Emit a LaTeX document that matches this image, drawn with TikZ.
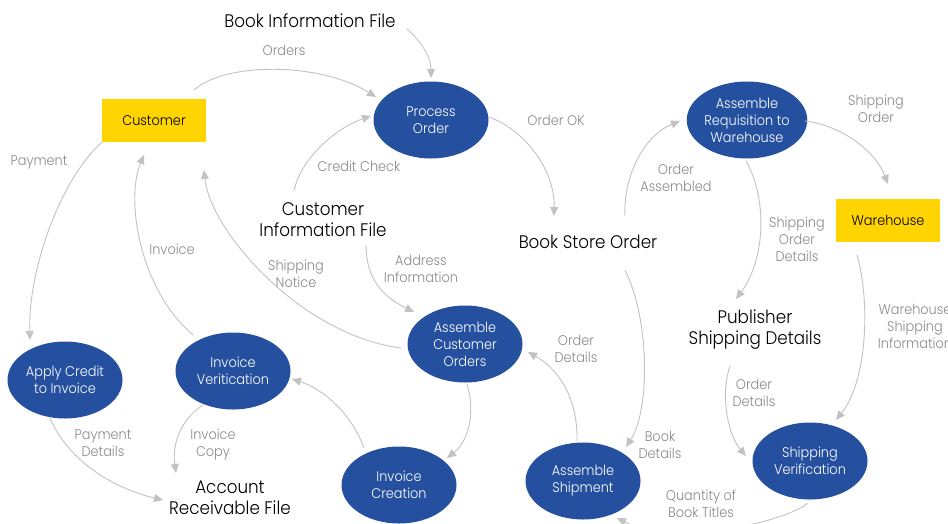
\documentclass[tikz,border=0pt]{standalone}
\usepackage{fontspec}
\IfFontExistsTF{Poppins Light}{\setmainfont[FakeStretch=0.92]{Poppins Light}}{\setmainfont[FakeStretch=0.92]{Poppins}}
\usetikzlibrary{arrows.meta,shapes.geometric}
\definecolor{procblue}{HTML}{2550A0}
\definecolor{entyellow}{HTML}{FFD400}
\definecolor{flowgray}{HTML}{C2C2C2}
\definecolor{labgray}{HTML}{8A8A8A}
\tikzset{
  proc/.style={ellipse,fill=procblue,minimum width=115pt,minimum height=77pt,inner sep=0pt,
    text=white,align=center,font=\fontsize{14}{17}\selectfont},
  ent/.style={rectangle,fill=entyellow,minimum width=104pt,minimum height=43pt,inner sep=0pt,
    font=\fontsize{14}{17}\selectfont},
  store/.style={align=center,inner sep=0pt,font=\fontsize{18.2}{21}\selectfont},
  flowlab/.style={align=center,inner sep=0pt,text=labgray,font=\fontsize{14}{17}\selectfont},
  flow/.style={draw=flowgray,line width=0.9pt,-{Triangle[length=9pt,width=8pt]},fill=none},
}
\begin{document}
\begin{tikzpicture}[x=1pt,y=-1pt]
\useasboundingbox (0,0) rectangle (948,523);
% nodes
\node[ent] (cust) at (154,120.5) {Customer};
\node[ent] (wh) at (888,220.5) {Warehouse};
\node[proc] (po) at (431,120) {Process\\Order};
\node[proc] (arw) at (747,120) {Assemble\\Requisition to\\Warehouse};
\node[proc] (aco) at (465,344) {Assemble\\Customer\\Orders};
\node[proc] (ac) at (65,380) {Apply Credit\\to Invoice};
\node[proc] (iv) at (233,371) {Invoice\\Veritication};
\node[proc] (ic) at (399,485) {Invoice\\Creation};
\node[proc] (ash) at (583,481) {Assemble\\Shipment};
\node[proc] (sv) at (810,461) {Shipping\\Verification};
\node[store] (bif) at (310,21) {Book Information File};
\node[store] (cif) at (323,220) {Customer\\Information File};
\node[store] (bso) at (588,242) {Book Store Order};
\node[store] (psd) at (755,330) {Publisher\\Shipping Details};
\node[store] (arf) at (230,498) {Account\\Receivable File};
% labels
\node[flowlab] (lOrders) at (284,50) {Orders};
\node[flowlab] (lCredit) at (359,166) {Credit Check};
\node[flowlab] (lOrderOK) at (556,120) {Order OK};
\node[flowlab] (lOrdAss) at (676,178) {Order\\Assembled};
\node[flowlab] (lShipOrd) at (876,109) {Shipping\\Order};
\node[flowlab] (lSOD) at (797,239) {Shipping\\Order\\Details};
\node[flowlab] (lWSI) at (915,326) {Warehouse\\Shipping\\Information};
\node[flowlab] (lOD2) at (754,393) {Order\\Details};
\node[flowlab] (lQty) at (701,504) {Quantity of\\Book Titles};
\node[flowlab] (lBook) at (660,445) {Book\\Details};
\node[flowlab] (lOD1) at (576,349) {Order\\Details};
\node[flowlab] (lAddr) at (421,269) {Address\\Information};
\node[flowlab] (lShipN) at (296,274) {Shipping\\Notice};
\node[flowlab] (lInv) at (172,249) {Invoice};
\node[flowlab] (lPay) at (39,162) {Payment};
\node[flowlab] (lPayD) at (103,443) {Payment\\Details};
\node[flowlab] (lInvC) at (213,445) {Invoice\\Copy};
% connectors
\draw[flow] ([shift={(40,-30.5)}]cust.center) .. controls (225,62) and (320,62) .. ([shift={(-55,-23)}]po.center);
\draw[flow] ([shift={(97,8)}]bif.center) .. controls (422,42) and (431,58) .. ([shift={(0,-42)}]po.center);
\draw[flow] ([shift={(-29,-29)}]cif.center) .. controls (300,160) and (335,128) .. ([shift={(-60,-4)}]po.center);
\draw[flow] ([shift={(58,-3)}]po.center) .. controls (525,130) and (555,170) .. ([shift={(-34,-26)}]bso.center);
\draw[flow] ([shift={(37,-26)}]bso.center) .. controls (623,175) and (645,135) .. ([shift={(-67,1)}]arw.center);
\draw[flow] ([shift={(58,1)}]arw.center) .. controls (840,125) and (875,150) .. ([shift={(0,-36.5)}]wh.center);
\draw[flow] ([shift={(-1,41)}]arw.center) .. controls (768,200) and (765,260) .. ([shift={(-19,-31)}]psd.center);
\draw[flow] ([shift={(-31,34.5)}]wh.center) .. controls (870,300) and (868,380) .. ([shift={(26,-41)}]sv.center);
\draw[flow] ([shift={(-25,36)}]psd.center) .. controls (720,395) and (728,435) .. ([shift={(-64,-5)}]sv.center);
\draw[flow] ([shift={(-2,42)}]sv.center) .. controls (780,525) and (670,545) .. ([shift={(34,37)}]ash.center);
\draw[flow] ([shift={(37,28)}]bso.center) .. controls (650,320) and (650,410) .. ([shift={(43,-34)}]ash.center);
\draw[flow] ([shift={(-6,-40)}]ash.center) .. controls (578,400) and (560,370) .. ([shift={(63,8)}]aco.center);
\draw[flow] ([shift={(43,25)}]cif.center) .. controls (366,285) and (390,300) .. ([shift={(-51,-32)}]aco.center);
\draw[flow] ([shift={(-64,4)}]aco.center) .. controls (300,335) and (210,230) .. ([shift={(50,49.5)}]cust.center);
\draw[flow] ([shift={(2,40)}]aco.center) .. controls (475,410) and (470,440) .. ([shift={(48,-27)}]ic.center);
\draw[flow] ([shift={(-35,-37)}]ic.center) .. controls (350,410) and (320,388) .. ([shift={(59,8)}]iv.center);
\draw[flow] ([shift={(-40,-36)}]iv.center) .. controls (140,290) and (125,200) .. ([shift={(-10,34.5)}]cust.center);
\draw[flow] ([shift={(-52,21.5)}]cust.center) .. controls (60,180) and (28,270) .. ([shift={(-35,-40)}]ac.center);
\draw[flow] ([shift={(-15,38)}]ac.center) .. controls (70,465) and (120,490) .. ([shift={(-67,2)}]arf.center);
\draw[flow] ([shift={(-30,34)}]iv.center) .. controls (180,420) and (172,445) .. ([shift={(-54,-25)}]arf.center);
\end{tikzpicture}
\end{document}
